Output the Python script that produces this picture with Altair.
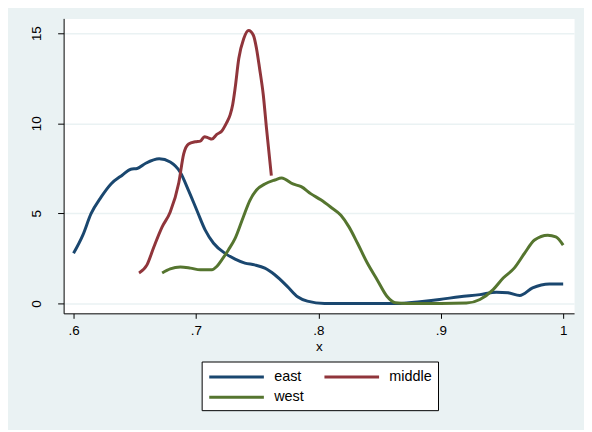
import altair as alt
import pandas as pd

series_names = ["east", "middle", "west"]
series_colors = ["#1a476f", "#90353b", "#55752f"]

east_x = [0.600, 0.6076, 0.6143, 0.6225, 0.6306, 0.640, 0.6468, 0.652, 0.659, 0.670,
          0.679, 0.6873, 0.694, 0.7008, 0.7076, 0.7144, 0.7238, 0.732, 0.740, 0.748,
          0.7563, 0.7644, 0.7746, 0.783, 0.791, 0.805, 0.864, 0.883, 0.899, 0.9155,
          0.932, 0.9455, 0.955, 0.9645, 0.975, 0.9887, 1.0]
east_y = [2.78, 3.79, 4.98, 5.90, 6.63, 7.13, 7.45, 7.49, 7.78, 8.03,
          7.85, 7.27, 6.26, 5.16, 4.07, 3.34, 2.78, 2.46, 2.24, 2.14,
          1.96, 1.59, 0.95, 0.37, 0.13, 0.0, 0.0, 0.10, 0.22, 0.37,
          0.49, 0.62, 0.59, 0.44, 0.86, 1.08, 1.08]

middle_x = [0.6535, 0.660, 0.6657, 0.6724, 0.679, 0.686, 0.690, 0.694, 0.6995, 0.7036,
            0.707, 0.710, 0.713, 0.717, 0.721, 0.725, 0.728, 0.730, 0.732, 0.735,
            0.739, 0.743, 0.747, 0.7495, 0.752, 0.755, 0.7576, 0.7616]
middle_y = [1.69, 2.14, 3.15, 4.25, 5.07, 6.70, 8.30, 8.85, 8.97, 9.01,
            9.25, 9.19, 9.12, 9.38, 9.56, 10.02, 10.48, 11.03, 11.94, 13.59,
            14.69, 15.15, 14.87, 14.14, 13.04, 11.58, 9.74, 7.09]

west_x = [0.6724, 0.679, 0.6873, 0.6955, 0.7036, 0.713, 0.717, 0.7211, 0.7265, 0.732,
          0.7387, 0.744, 0.7495, 0.7563, 0.7644, 0.770, 0.7792, 0.786, 0.794, 0.802,
          0.810, 0.8184, 0.825, 0.832, 0.840, 0.848, 0.856, 0.863, 0.8725, 0.900,
          0.921, 0.932, 0.9428, 0.951, 0.960, 0.9685, 0.9766, 0.9874, 0.994, 1.0]
west_y = [1.69, 1.92, 2.02, 1.96, 1.87, 1.87, 2.05, 2.42, 2.97, 3.61,
          4.80, 5.71, 6.30, 6.63, 6.85, 6.96, 6.63, 6.48, 6.08, 5.75,
          5.35, 4.89, 4.25, 3.34, 2.24, 1.32, 0.40, 0.04, 0.0, 0.0,
          0.02, 0.22, 0.77, 1.41, 1.96, 2.79, 3.52, 3.79, 3.70, 3.24]

x_ticks = [0.6, 0.7, 0.8, 0.9, 1.0]
y_ticks = [0, 5, 10, 15]

rows = []
for name, xs, ys in [("east", east_x, east_y), ("middle", middle_x, middle_y), ("west", west_x, west_y)]:
    for i, (a, b) in enumerate(zip(xs, ys)):
        rows.append({"series": name, "x": a, "y": b, "order": i})
df = pd.DataFrame(rows)

FONT = "Liberation Sans"
BG = "#EAF2F3"

chart = alt.Chart(df).mark_line(strokeWidth=3, interpolate="monotone").encode(
    x=alt.X("x:Q",
            scale=alt.Scale(domain=[0.5919, 1.0089], nice=False, zero=False),
            axis=alt.Axis(values=x_ticks, grid=False, tickSize=5, labelPadding=5,
                          labelExpr="datum.value >= 1 ? '1' : substring(format(datum.value, '.1f'), 1)",
                          title="x", titlePadding=2.5)),
    y=alt.Y("y:Q",
            scale=alt.Scale(domain=[-0.55, 15.82], nice=False, zero=False),
            axis=alt.Axis(values=y_ticks, grid=True, gridColor=BG, gridWidth=1.5,
                          tickSize=6, labelAngle=270, labelPadding=14, title=None)),
    color=alt.Color("series:N",
                    scale=alt.Scale(domain=series_names, range=series_colors),
                    legend=alt.Legend(orient="none", legendX=139, legendY=345.5, columns=2,
                                      direction="horizontal",
                                      title=None, symbolType="M-1,0H6", symbolSize=247,
                                      symbolStrokeWidth=3, labelOffset=48, columnPadding=14,
                                      rowPadding=4.5, padding=6, strokeColor="black",
                                      fillColor="white", labelFontSize=14.5, labelFont=FONT)),
    order="order:Q",
).properties(
    width=514, height=297,
    autosize=alt.AutoSizeParams(type="none"),
    padding={"left": 56, "top": 9, "right": 10, "bottom": 116},
    background=BG,
).configure_view(
    fill="white", strokeOpacity=0
).configure_axis(
    labelFont=FONT, titleFont=FONT, labelFontSize=13.5, titleFontSize=13.5,
    titleFontWeight="normal", domainColor="#000000", tickColor="#000000",
    labelColor="#000000", titleColor="#000000", domainWidth=1, tickWidth=1
)

chart.save("out.html", embed_options={"renderer": "svg", "actions": False})
